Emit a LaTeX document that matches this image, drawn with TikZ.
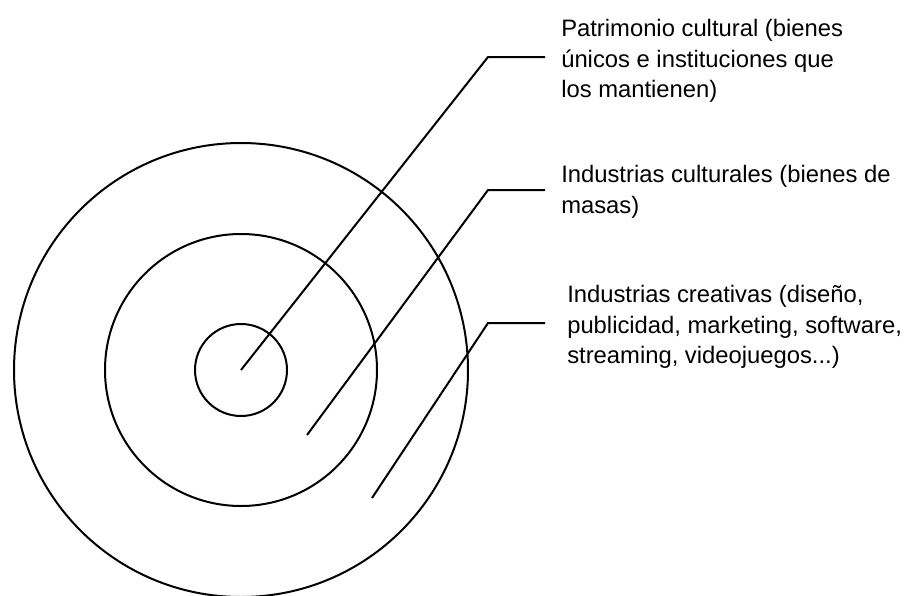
\documentclass[tikz,border=0pt]{standalone}
\usepackage{fontspec}
\setmainfont{Liberation Sans}

\begin{document}
\begin{tikzpicture}[x=0.75pt,y=-0.75pt,
        ring/.style={line width=1.5pt},
        ringtext/.style={anchor=north west, inner sep=0pt, align=left,
            font=\fontsize{17.85pt}{22.9pt}\selectfont}]
        \useasboundingbox (0,0) rectangle (907,596);

        \coordinate (O) at (241,370);
        \coordinate (A) at (241,370);
        \coordinate (B) at (307,435);
        \coordinate (C) at (372,498);
        \coordinate (K1) at (488,57);
        \coordinate (K2) at (488,190);
        \coordinate (K3) at (488,323);

        % the three rings
        \draw[ring] (O) circle (46);
        \draw[ring] (O) circle (136);
        \draw[ring] (O) circle (227);

        \node[ringtext] (T1) at (561,19) {Patrimonio cultural (bienes\\únicos e instituciones que\\los mantienen)};
        \node[ringtext] (T2) at (561,165) {Industrias culturales (bienes de\\masas)};
        \node[ringtext] (T3) at (567,285) {Industrias creativas (diseño,\\publicidad, marketing, software,\\streaming, videojuegos...)};

        \draw[ring, shorten >=12pt] (A) -- (K1) -- (K1 -| T1.west);
        \draw[ring, shorten >=12pt] (B) -- (K2) -- (K2 -| T2.west);
        \draw[ring, shorten >=16.5pt] (C) -- (K3) -- (K3 -| T3.west);
    \end{tikzpicture}
\end{document}
